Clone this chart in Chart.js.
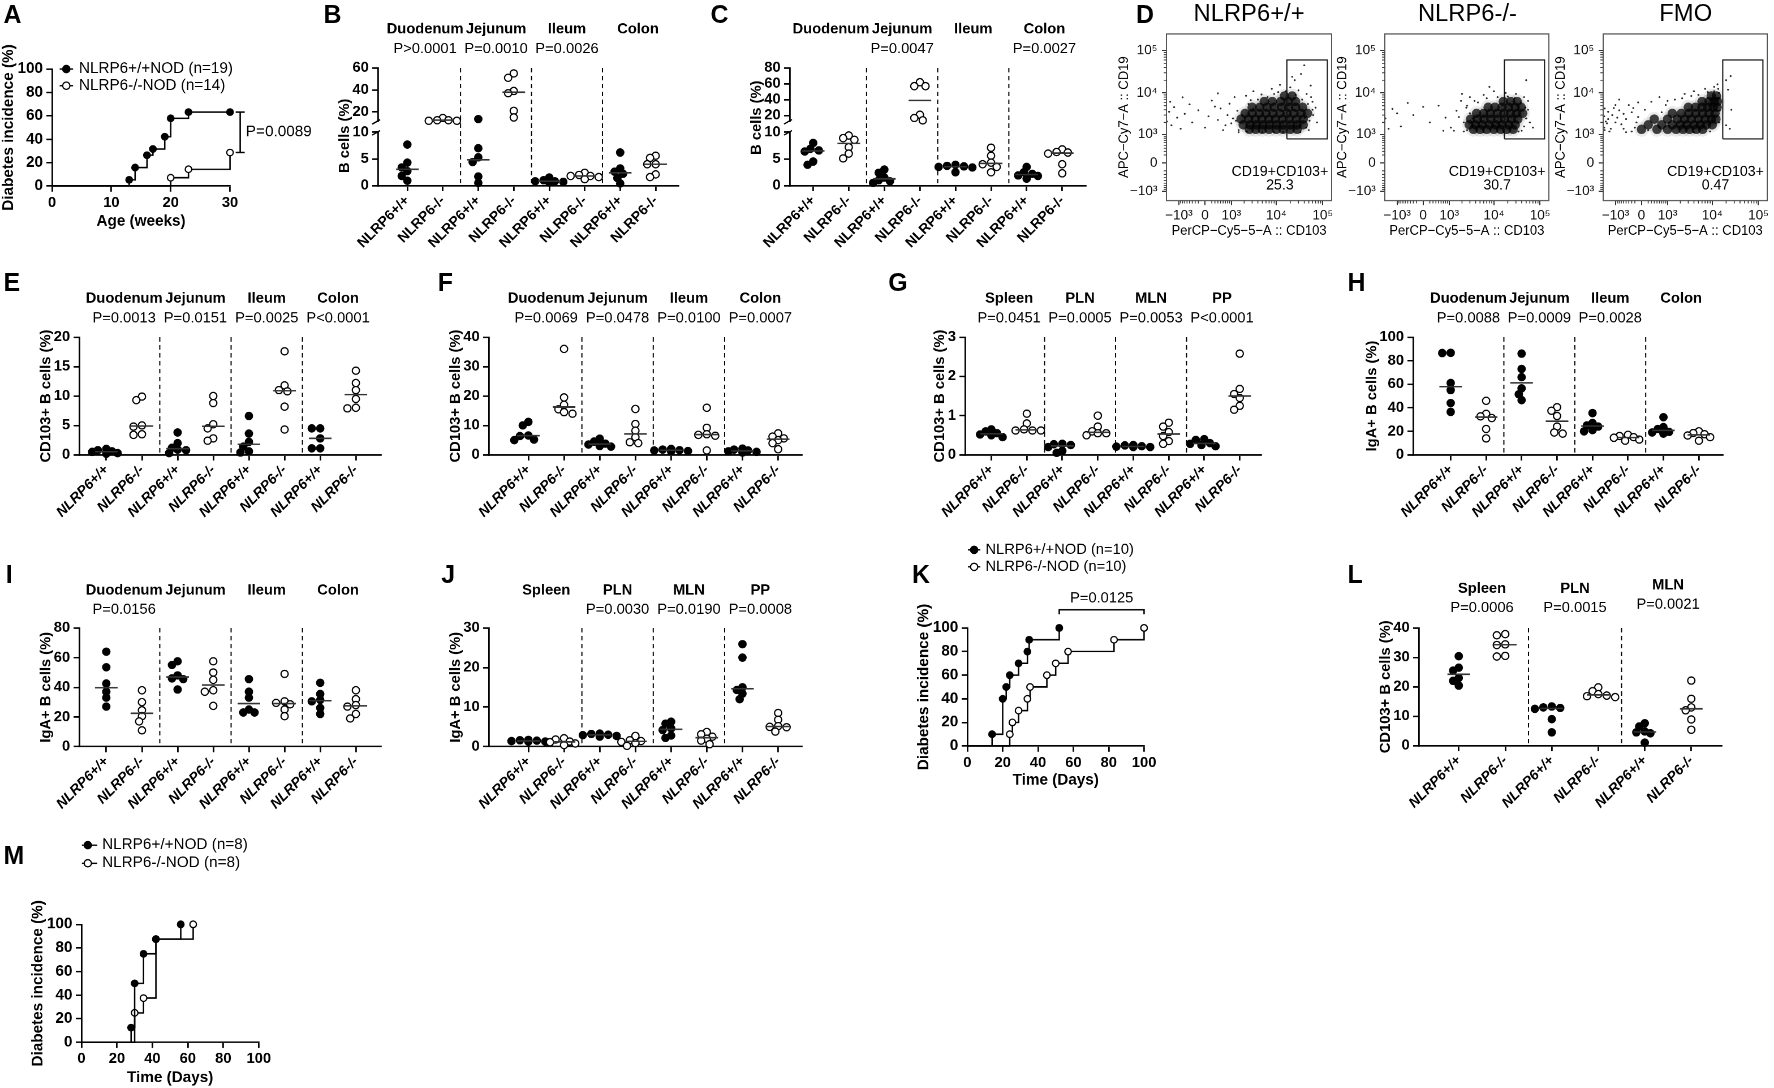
<!DOCTYPE html>
<html>
<head>
<meta charset="utf-8">
<title>NLRP6 NOD figure</title>
<script src="https://cdn.jsdelivr.net/npm/chart.js@4.4.1/dist/chart.umd.min.js"></script>
<style>
  html, body { margin: 0; padding: 0; background: #fff; overflow: hidden; }
  #fig { position: absolute; left: 0; top: 0; width: 1568px; height: 962px;
         transform: scale(1.131378); transform-origin: 0 0;
         font-family: "Liberation Sans", Arial, sans-serif; color: #000; }
  #fig canvas { position: absolute; }
  .lt { position: absolute; font-weight: bold; font-size: 22px; line-height: 22px; }
  .ft { position: absolute; font-size: 21px; line-height: 21px; width: 160px; margin-left: -80px; text-align: center; }
</style>
</head>
<body>
<div id="fig">
  <div class="lt" style="left:3px;top:2px">A</div>
  <div class="lt" style="left:286px;top:2px">B</div>
  <div class="lt" style="left:628px;top:2px">C</div>
  <div class="lt" style="left:1004px;top:2px">D</div>
  <div class="lt" style="left:3px;top:239px">E</div>
  <div class="lt" style="left:387px;top:239px">F</div>
  <div class="lt" style="left:785px;top:239px">G</div>
  <div class="lt" style="left:1191px;top:239px">H</div>
  <div class="lt" style="left:5px;top:497px">I</div>
  <div class="lt" style="left:390px;top:497px">J</div>
  <div class="lt" style="left:806px;top:497px">K</div>
  <div class="lt" style="left:1191px;top:497px">L</div>
  <div class="lt" style="left:3px;top:746px">M</div>
  <div class="ft" style="left:1104px;top:1px">NLRP6+/+</div>
  <div class="ft" style="left:1297px;top:1px">NLRP6-/-</div>
  <div class="ft" style="left:1490px;top:1px">FMO</div>
</div>
<script>
// ---------- data ----------
// A: diabetes incidence (%) by age (weeks)
const aWtWeeks = [0, 13, 14, 16, 17, 19, 20, 23, 30];
const aWtPct   = [0, 5.3, 15.8, 26.3, 31.6, 42.1, 57.9, 63.2, 63.2];
const aKoWeeks = [0, 20, 23, 30];
const aKoPct   = [0, 7.1, 14.3, 28.6];
const aLegend  = ['NLRP6+/+NOD (n=19)', 'NLRP6-/-NOD (n=14)'];

// K: incidence (%) by time (days)
const kWtDays = [0, 14, 20, 22, 24, 29, 34, 35, 52];
const kWtPct  = [0, 10, 40, 50, 60, 70, 80, 90, 100];
const kKoDays = [0, 24, 25.5, 29, 34, 35.5, 45, 50, 57, 83, 100];
const kKoPct  = [0, 10, 20, 30, 40, 50, 60, 70, 80, 90, 100];
const kLegend = ['NLRP6+/+NOD (n=10)', 'NLRP6-/-NOD (n=10)'];

// M: incidence (%) by time (days)
const mWtDays = [0, 28, 30, 35, 42, 56];
const mWtPct  = [0, 12.5, 50, 75, 87.5, 100];
const mKoDays = [0, 30, 35, 42, 63];
const mKoPct  = [0, 25, 37.5, 87.5, 100];
const mLegend = ['NLRP6+/+NOD (n=8)', 'NLRP6-/-NOD (n=8)'];

const genotypes = ['NLRP6+/+', 'NLRP6-/-'];
const cats8 = [...genotypes, ...genotypes, ...genotypes, ...genotypes];
const cats6 = cats8.slice(0, 6);
const gutSites = ['Duodenum', 'Jejunum', 'Ileum', 'Colon'];
const lymphSites = ['Spleen', 'PLN', 'MLN', 'PP'];

// B: B cells (%)
const bP = ['P>0.0001', 'P=0.0010', 'P=0.0026', ''];
const bVals = [
  [7.7, 4.3, 3.4, 2.7, 1.8, 0.9], [14.5, 12.5, 12, 12, 12.5],
  [13.5, 7.0, 5.3, 4.4, 1.7, 0.5], [55, 51, 39, 37, 21, 15],
  [1.5, 1.0, 0.8, 0.7, 0.6, 0.8], [2.4, 2.0, 1.8, 1.8, 1.6, 1.2],
  [6.2, 3.2, 2.6, 2.2, 1.4, 0.4], [5.6, 5.2, 4.0, 4.0, 2.1, 1.6]
];
// C: B cells (%)
const cP = ['', 'P=0.0047', '', 'P=0.0027'];
const cVals = [
  [8.0, 6.9, 6.6, 6.4, 4.5, 3.9], [9.4, 8.9, 8.6, 7.2, 6.0, 5.1],
  [3.0, 2.4, 1.5, 1.0, 0.8, 0.5], [62, 57, 57, 21, 17, 14],
  [3.9, 3.7, 3.6, 3.5, 3.4, 2.5], [7.1, 5.6, 4.3, 4.0, 3.5, 2.5],
  [3.5, 2.5, 2.2, 1.9, 1.8, 1.3], [6.8, 6.3, 6.2, 6.0, 4.0, 2.3]
];
// E: CD103+ B cells (%)
const eP = ['P=0.0013', 'P=0.0151', 'P=0.0025', 'P<0.0001'];
const eVals = [
  [1.0, 0.8, 0.6, 0.5, 0.3, 0.2], [9.9, 9.3, 5.0, 4.8, 3.5, 3.4],
  [3.8, 2.0, 1.2, 0.9, 0.8, 0.3], [10.0, 8.8, 5.2, 4.5, 2.8, 2.4],
  [6.6, 3.6, 2.2, 1.4, 0.6, 0.4], [17.6, 11.8, 11.0, 10.8, 8.2, 4.3],
  [4.5, 4.5, 2.8, 1.1, 1.1], [14.3, 12.2, 11.0, 9.5, 8.0, 7.9]
];
// F: CD103+ B cells (%)
const fP = ['P=0.0069', 'P=0.0478', 'P=0.0100', 'P=0.0007'];
const fVals = [
  [11.2, 10.0, 6.6, 6.4, 5.2, 5.0], [36.0, 19.5, 17.0, 15.5, 14.5, 14.0],
  [5.5, 4.5, 3.8, 3.5, 3.0, 2.8], [15.6, 10.5, 8.2, 6.0, 4.3, 4.0],
  [2.0, 1.8, 1.6, 1.5, 1.3, 1.2], [16.0, 9.2, 7.0, 6.8, 6.5, 1.5],
  [2.1, 1.8, 1.5, 1.2, 1.0, 0.8], [7.3, 6.2, 5.6, 5.0, 4.0, 1.9]
];
// G: CD103+ B cells (%)
const gP = ['P=0.0451', 'P=0.0005', 'P=0.0053', 'P<0.0001'];
const gVals = [
  [0.65, 0.6, 0.55, 0.52, 0.5, 0.45], [1.05, 0.8, 0.65, 0.62, 0.62, 0.62],
  [0.28, 0.27, 0.25, 0.2, 0.1, 0.05], [1.0, 0.72, 0.6, 0.55, 0.55, 0.5],
  [0.25, 0.24, 0.22, 0.21, 0.2, 0.2], [0.82, 0.72, 0.58, 0.48, 0.35, 0.28],
  [0.4, 0.38, 0.3, 0.28, 0.25, 0.22], [2.58, 1.68, 1.55, 1.45, 1.25, 1.15]
];
// H: IgA+ B cells (%)
const hP = ['P=0.0088', 'P=0.0009', 'P=0.0028', ''];
const hVals = [
  [86.7, 86.5, 61, 55, 44, 36.5], [45.9, 34.8, 32.7, 31.3, 22, 14],
  [86, 73, 66, 56.5, 51.5, 46.5], [40.5, 37.5, 33, 24, 19, 18],
  [35.5, 27, 25, 24, 21, 20], [17, 16, 15, 14.5, 13, 12],
  [32, 23.5, 22, 19.5, 19, 18], [20, 18.5, 17.5, 16.5, 15, 12]
];
// I: IgA+ B cells (%)
const iP = ['P=0.0156', '', '', ''];
const iVals = [
  [64, 53.5, 42.5, 37, 33, 27], [38, 30, 24.5, 20.5, 17, 11],
  [57.5, 55, 48, 46, 45.5, 38.5], [57.5, 50, 45, 38, 37, 27.5],
  [45.5, 37, 33, 25, 23, 23], [49, 30.5, 29.5, 28.5, 25, 20.5],
  [43, 35.5, 31.5, 30.5, 26, 22], [38, 32, 28, 27, 22, 19]
];
// J: IgA+ B cells (%)
const jP = ['', 'P=0.0030', 'P=0.0190', 'P=0.0008'];
const jVals = [
  [1.7, 1.6, 1.5, 1.4, 1.3, 1.3], [2.1, 1.8, 1.3, 1.1, 0.8, 0.4],
  [3.3, 3.2, 3.0, 2.9, 2.7, 2.5], [2.7, 1.6, 1.4, 1.2, 0.9, 0.2],
  [6.3, 5.8, 4.6, 4.2, 2.8, 2.2], [3.7, 3.1, 2.5, 2.0, 1.5, 0.6],
  [25.9, 22.5, 15, 14.3, 13.4, 12], [8.5, 6.8, 5.2, 5.0, 4.9, 3.8]
];
// L: CD103+ B cells (%)
const lP = ['P=0.0006', 'P=0.0015', 'P=0.0021'];
const lVals = [
  [30.4, 26.5, 25.5, 23, 22, 20.4], [37.9, 37.5, 34.4, 34.2, 30.5, 30.3],
  [13.3, 13.0, 12.8, 12.5, 9.0, 4.5], [19.8, 18.5, 17.5, 17.0, 16.8, 16.5],
  [7.6, 6.5, 4.8, 4.5, 4.2, 1.0], [22.1, 15.9, 13.0, 12.0, 8.9, 5.4]
];

// D: flow plots, events as [CD103, CD19]
const flowTicks = [-1000, 0, 1000, 10000, 100000];
const flowTickLabels = ['−10³', '0', '10³', '10⁴', '10⁵'];
const gateX = [16900, 125000];
const gateY = [765, 60000];
const gatePct = ['25.3', '30.7', '0.47'];
const wtCore = [
  [2600,1350],[3600,1350],[5000,1350],[7000,1350],[10000,1350],[14000,1350],[20000,1350],[28000,1350],
  [1900,1750],[2700,1750],[3700,1750],[5100,1750],[7100,1750],[10000,1750],[14000,1750],[20000,1750],[28000,1750],[38000,1750],
  [1700,2400],[2500,2400],[3500,2400],[4900,2400],[6900,2400],[9600,2400],[13500,2400],[19000,2400],[27000,2400],[38000,2400],
  [2100,3300],[3000,3300],[4300,3300],[6000,3300],[8500,3300],[12000,3300],[17000,3300],[24000,3300],[34000,3300],[47000,3300],
  [3000,4600],[4400,4600],[6300,4600],[9000,4600],[13000,4600],[18500,4600],[26000,4600],[37000,4600],
  [5500,6300],[8200,6300],[12500,6300],[18000,6300],[26000,6300],[15000,8500],[22000,8500]
];
const wtSparse = [
  [-1900,2100],[-1700,3600],[-1500,1700],[-1300,4600],[-1100,2600],[-900,1400],[-700,3200],[-500,5400],
  [-400,2000],[-200,3900],[0,1500],[100,2800],[200,6600],[400,2300],[500,4300],[600,1300],[800,3000],
  [900,5600],[1000,1900],[1200,8000],[400,9800],[-1600,6200],[-800,7900],[300,4800],[700,1700],[1100,2500],
  [1400,3800],[1500,1300],[2200,8600],[3200,11000],[4800,9200],[8000,12500],[12000,15500],[20000,13500],
  [30000,11500],[45000,9500],[60000,6200],[62000,3000],[75000,2000],[50000,1300],[34000,28000],[40000,45000],
  [25000,20000],[9000,1150],[70000,4500],[55000,15000],
  [1500,1150],[2300,1200],[3200,4200],[1800,3000],[2500,5500],[4000,7000],[6500,8000],[11000,10500],
  [16000,11000],[26000,9000],[36000,7000],[48000,5500],[52000,2200],[44000,1500],[33000,1150],[14000,1150],
  [5000,1150],[60000,4000],[1300,2200],[2800,6800],[9000,9500],[41000,2600],[56000,8000],[22000,24000]
];
const koCore = [
  [3600,1350],[5000,1350],[7000,1350],[10000,1350],[14000,1350],[19000,1350],[26000,1350],
  [2900,1750],[4000,1750],[5600,1750],[8000,1750],[11000,1750],[15000,1750],[21000,1750],[29000,1750],
  [3100,2400],[4400,2400],[6100,2400],[8600,2400],[12000,2400],[17000,2400],[24000,2400],[33000,2400],
  [4200,3300],[6000,3300],[8400,3300],[11800,3300],[16500,3300],[23000,3300],[31000,3300],[42000,3300],
  [7500,4600],[10500,4600],[15000,4600],[21000,4600],[29000,4600],[39000,4600],[16000,6300],[23000,6300],[32000,6300]
];
const koSparse = [
  [-1900,2500],[-1300,4200],[-800,1600],[-300,3000],[200,2000],[500,5000],[800,2600],[1100,1500],[1500,3800],
  [1900,6500],[2200,2000],[1300,1250],[-1600,1400],[2500,4500],[3000,8000],[6000,9000],[10000,11000],
  [18000,10000],[30000,9500],[45000,8000],[55000,4000],[60000,2000],[40000,1250],[3800,6500],[50000,20000],
  [70000,1500],[2000,9500],[-500,5800],[700,1250],[8000,14000],[-1000,3300],[0,4700],[2600,1300],[1700,2700],
  [2200,1200],[3000,3300],[2600,5000],[4500,6000],[7000,7500],[12000,8000],[20000,8200],[28000,7500],
  [38000,6000],[48000,4500],[50000,2500],[45000,1600],[34000,1200],[16000,1150],[6000,1150],[3500,2500],[55000,6500]
];
const fmoCore = [
  [0,1350],[500,1350],[1000,1350],[1600,1350],[2300,1350],[3200,1350],[4500,1350],[6200,1350],
  [200,1750],[700,1750],[1300,1750],[2000,1750],[2800,1750],[4000,1750],[5500,1750],[7500,1750],[10000,1750],
  [400,2400],[1000,2400],[1700,2400],[2500,2400],[3500,2400],[5000,2400],[7000,2400],[9500,2400],[12000,2400],
  [1300,3300],[2100,3300],[3100,3300],[4400,3300],[6200,3300],[8500,3300],[11500,3300],
  [3000,4600],[4300,4600],[6000,4600],[8000,4600],[10500,4600],[12800,4600],
  [6000,6300],[8500,6300],[11000,6300],[13000,6300],[9500,8500],[12300,8500]
];
const fmoSparse = [
  [-1850,1500],[-1850,2800],[-1700,2100],[-1500,3600],[-1300,1400],[-1100,4400],[-900,2600],[-700,1800],
  [-600,3200],[-400,5200],[-200,1500],[-100,2700],[100,4000],[300,6200],[-1800,4300],[-800,7000],[600,8000],
  [1500,7000],[2500,9500],[4000,11000],[7000,12500],[11000,14000],[13000,16000],[14000,10000],[20000,20000],
  [25000,25000],[22000,12000],[26000,4000],[20000,1700],[24000,1400],[-1400,1200],[-300,1200],[900,5200],
  [-1600,1900],[-1200,3000],[-1000,2000],[-800,3900],[-500,2400],[-300,3500],[-150,2000],[-1800,1300],
  [-600,1400],[-1000,5200],[200,1300],[-250,4400],
  [-100,6000],[1000,6500],[2200,7500],[3500,8500],[5000,9000],[8000,10500],[11000,11000],[13500,12500],
  [14000,7500],[14500,3800],[14000,2000],[9000,1200],[4000,1150],[-500,1150],[-1500,2400],[700,3500]
];

// ---------- helpers ----------
const FONT = '"Liberation Sans", Arial, sans-serif';
const fnt = (w, s) => (w ? w + ' ' : '') + s + 'px ' + FONT;
Chart.defaults.font.family = FONT;
Chart.defaults.color = '#000';
Chart.defaults.animation = false;
Chart.defaults.events = [];
Chart.defaults.plugins.legend.display = false;
Chart.defaults.plugins.tooltip.enabled = false;

const fig = document.getElementById('fig');

function place(L, T, R, B, padL, padT, padR, padB) {
  const w = Math.ceil(R - L + padL + padR), h = Math.ceil(B - T + padT + padB);
  const cv = document.createElement('canvas');
  cv.width = w; cv.height = h;
  cv.style.left = (L - padL) + 'px';
  cv.style.top = (T - padT) + 'px';
  fig.appendChild(cv);
  return {cv, ox: L - padL, oy: T - padT, padL, padT,
          padR: w - padL - (R - L), padB: h - padT - (B - T)};
}

function txt(c, s, x, y, font, align, rot) {
  c.save();
  c.translate(x, y);
  if (rot) c.rotate(rot);
  c.font = font; c.fillStyle = '#000';
  c.textAlign = align || 'center'; c.textBaseline = 'middle';
  c.fillText(s, 0, 0);
  c.restore();
}

function median(a) {
  const s = [...a].sort((x, y) => x - y), n = s.length;
  return n % 2 ? s[(n - 1) / 2] : (s[n / 2 - 1] + s[n / 2]) / 2;
}

// simple beeswarm: returns horizontal pixel offsets
function swarm(vals, ypx) {
  const order = vals.map((v, i) => i).sort((a, b) => vals[b] - vals[a]);
  const placed = [], off = [];
  const cands = [0, -1, 1, -2, 2, -3, 3, -4, 4, -5, 5, -6, 6].map(k => k * 2.5);
  order.forEach(i => {
    const y = ypx(vals[i]);
    off[i] = 0;
    for (const x of cands) {
      if (placed.every(p => Math.hypot(p.x - x, p.y - y) >= 5.2)) { off[i] = x; break; }
    }
    placed.push({x: off[i], y});
  });
  return off;
}

function baseOpts(pl) {
  return {responsive: false, devicePixelRatio: 2,
          layout: {padding: {left: 0, top: pl.padT, right: pl.padR, bottom: 0}}};
}

function axisY(pl, min, max, ticks, extra) {
  return Object.assign({
    type: 'linear', position: 'left', min, max,
    afterBuildTicks: a => { a.ticks = ticks.map(v => ({value: v})); },
    afterFit: a => { a.width = pl.padL; },
    ticks: {color: '#000', padding: 3, autoSkip: false, font: {size: 13, weight: 'bold'}},
    grid: {drawOnChartArea: false, color: '#000', lineWidth: 1.4, tickLength: 5},
    border: {color: '#000', width: 1.4}
  }, extra || {});
}

function axisX(pl, min, max, ticks, tickOpts) {
  return {
    type: 'linear', position: 'bottom', min, max,
    afterBuildTicks: a => { a.ticks = ticks.map(v => ({value: v})); },
    afterFit: a => { a.height = pl.padB; a.paddingLeft = 0; a.paddingRight = 0; },
    ticks: Object.assign({color: '#000', padding: 2, autoSkip: false, minRotation: 0, maxRotation: 0,
                          font: {size: 13, weight: 'bold'}}, tickOpts || {}),
    grid: {drawOnChartArea: false, color: '#000', lineWidth: 1.4, tickLength: 5},
    border: {color: '#000', width: 1.4}
  };
}

// ---------- dot plot panels ----------
function dotPanel(p) {
  const segs = p.segs || [{id: 'y', min: 0, max: p.ymax, ticks: p.yticks, top: p.T, bottom: p.B}];
  const T = segs[0].top, B = segs[segs.length - 1].bottom;
  const pl = place(p.L, T, p.R, B, 80, 75, 10, 80);
  const segOf = v => segs.find(s => v >= s.min && v <= s.max) || segs[0];
  const ypx = v => { const s = segOf(v); return s.bottom - (v - s.min) / (s.max - s.min) * (s.bottom - s.top); };
  const xu = (p.R - p.L) / (p.xmax - p.xmin);
  const med = {}, full = {}, open = {};
  segs.forEach(s => { med[s.id] = []; full[s.id] = []; open[s.id] = []; });
  p.vals.forEach((vals, i) => {
    const offs = swarm(vals, ypx);
    vals.forEach((v, k) => {
      (i % 2 ? open : full)[segOf(v).id].push({x: i + 1 + offs[k] / xu, y: v});
    });
    const m = median(vals);
    med[segOf(m).id].push({x: i + 1, y: m});
  });
  const datasets = [];
  segs.forEach(s => {
    datasets.push({data: med[s.id], yAxisID: s.id, pointStyle: 'line', pointRadius: 10,
                   borderColor: '#333', borderWidth: 1.4, clip: false});
    datasets.push({data: open[s.id], yAxisID: s.id, pointRadius: 3.2, backgroundColor: '#fff',
                   borderColor: '#000', borderWidth: 1.1, clip: false});
    datasets.push({data: full[s.id], yAxisID: s.id, pointRadius: 3.2, backgroundColor: '#000',
                   borderColor: '#000', borderWidth: 1.1, clip: false});
  });
  const scales = {
    x: axisX(pl, p.xmin, p.xmax, p.cats.map((c, i) => i + 1), {
      minRotation: 45, maxRotation: 45, padding: 1,
      font: {size: 12.5, weight: 'bold', style: p.italic ? 'italic' : 'normal'},
      callback: v => p.cats[v - 1] || ''
    })
  };
  // stacked y segments are laid out from the last defined to the first, so insert bottom-up
  for (let j = segs.length - 1; j >= 0; j--) {
    const s = segs[j];
    scales[s.id] = axisY(pl, s.min, s.max, s.ticks,
      segs.length > 1 ? {stack: 'yy', stackWeight: s.bottom - s.top} : {});
    if (j > 0) {
      scales['gap' + j] = {type: 'linear', position: 'left', stack: 'yy', stackWeight: s.top - segs[j - 1].bottom,
        min: 0, max: 1, afterFit: a => { a.width = pl.padL; },
        ticks: {display: false}, grid: {display: false}, border: {display: false}};
    }
  }
  const deco = {
    id: 'deco',
    beforeDatasetsDraw(ch) {
      const c = ch.ctx, xa = ch.scales.x;
      c.save(); c.strokeStyle = '#000'; c.lineWidth = 1; c.setLineDash([4, 3]);
      for (let g = 1; g < p.sites.length; g++) {
        const x = xa.getPixelForValue(2 * g + 0.5);
        c.beginPath(); c.moveTo(x, pl.padT); c.lineTo(x, pl.padT + (B - T)); c.stroke();
      }
      c.restore();
    },
    afterDraw(ch) {
      const c = ch.ctx, xa = ch.scales.x;
      p.sites.forEach((s, g) => {
        const x = xa.getPixelForValue(2 * g + 1.5);
        const hy = Array.isArray(p.hY) ? p.hY[g] : p.hY;
        const py = Array.isArray(p.pY) ? p.pY[g] : p.pY;
        txt(c, s, x, hy - pl.oy, fnt('bold', 13));
        if (p.pv[g]) txt(c, p.pv[g], x, py - pl.oy, fnt('', 13));
      });
      txt(c, p.yTitle, pl.padL - (p.yOff || 29), (T + B) / 2 + (p.yShift || 0) - pl.oy,
          fnt('bold', 13), 'center', -Math.PI / 2);
      if (segs.length > 1) {
        c.save(); c.strokeStyle = '#000'; c.lineWidth = 1.2;
        for (let j = 1; j < segs.length; j++) {
          [segs[j - 1].bottom, segs[j].top].forEach(yy => {
            const y = yy - pl.oy;
            c.beginPath(); c.moveTo(pl.padL - 5, y + 2.5); c.lineTo(pl.padL + 2, y - 1.5); c.stroke();
          });
        }
        c.restore();
      }
    }
  };
  new Chart(pl.cv, {type: 'scatter', data: {datasets},
    options: Object.assign(baseOpts(pl), {scales}), plugins: [deco]});
}

// ---------- incidence (step) panels ----------
function kmPanel(p) {
  const pl = place(p.L, p.T, p.R, p.B, 80, 80, 75, 60);
  const mk = (xs, ys, fill) => ({
    data: xs.map((x, i) => ({x, y: ys[i]})), showLine: true, stepped: true,
    borderColor: '#000', borderWidth: 1.3,
    pointRadius: c => (c.dataIndex === 0 ? 0 : 2.9),
    pointBackgroundColor: fill, pointBorderColor: '#000', pointBorderWidth: 1.1, clip: false
  });
  const deco = {
    id: 'kmdeco',
    afterDraw(ch) {
      const c = ch.ctx, xa = ch.scales.x, ya = ch.scales.y;
      txt(c, p.xTitle, (xa.left + xa.right) / 2, p.xTy - pl.oy, fnt('bold', 13.5));
      txt(c, 'Diabetes incidence (%)', pl.padL - 38, (p.T + p.B) / 2 - pl.oy, fnt('bold', 13.5), 'center', -Math.PI / 2);
      const lg = p.legend;
      lg.labels.forEach((s, i) => {
        const y = lg.y[i] - pl.oy;
        c.save(); c.strokeStyle = '#000'; c.lineWidth = 1.2;
        c.beginPath(); c.moveTo(lg.x0 - pl.ox, y); c.lineTo(lg.x1 - pl.ox, y); c.stroke();
        c.beginPath(); c.arc(lg.dot - pl.ox, y, 3.2, 0, Math.PI * 2);
        c.fillStyle = i ? '#fff' : '#000'; c.fill(); c.lineWidth = 1.1; c.stroke();
        c.restore();
        txt(c, s, lg.tx - pl.ox, y, fnt('', lg.size), 'left');
      });
      c.save(); c.strokeStyle = '#000'; c.lineWidth = 1.3;
      if (p.vbar) {
        const x = xa.getPixelForValue(p.vbar.x) + 9;
        const y0 = ya.getPixelForValue(p.vbar.y0), y1 = ya.getPixelForValue(p.vbar.y1);
        c.beginPath();
        c.moveTo(x, y0); c.lineTo(x, y1);
        c.moveTo(x - 4, y0); c.lineTo(x + 4, y0);
        c.moveTo(x - 4, y1); c.lineTo(x + 4, y1);
        c.stroke();
        txt(c, p.vbar.text, x + 5, (y0 + y1) / 2, fnt('', 13.5), 'left');
      }
      if (p.hbar) {
        const y = ya.getPixelForValue(100) - 16;
        const x0 = xa.getPixelForValue(p.hbar.x0), x1 = xa.getPixelForValue(p.hbar.x1);
        c.beginPath();
        c.moveTo(x0, y + 4); c.lineTo(x0, y); c.lineTo(x1, y); c.lineTo(x1, y + 4);
        c.stroke();
        txt(c, p.hbar.text, (x0 + x1) / 2, y - 10, fnt('', 13));
      }
      c.restore();
    }
  };
  new Chart(pl.cv, {
    type: 'scatter',
    data: {datasets: [mk(p.wt[0], p.wt[1], '#000'), mk(p.ko[0], p.ko[1], '#fff')]},
    options: Object.assign(baseOpts(pl), {scales: {
      x: axisX(pl, 0, p.xmax, p.xticks),
      y: axisY(pl, 0, 100, [0, 20, 40, 60, 80, 100], {ticks: {color: '#000', padding: 3, autoSkip: false, font: {size: 13.5, weight: 'bold'}}})
    }}),
    plugins: [deco]
  });
}

// ---------- flow plots (arcsinh scaled axes) ----------
function makeAsinh(id, cof) {
  class AsinhScale extends Chart.Scale {
    determineDataLimits() { this.min = this.options.min; this.max = this.options.max; }
    buildTicks() { return []; }
    configure() {
      super.configure();
      this._t0 = Math.asinh(this.min / cof);
      this._t1 = Math.asinh(this.max / cof);
    }
    getPixelForValue(v) { return this.getPixelForDecimal((Math.asinh(v / cof) - this._t0) / (this._t1 - this._t0)); }
    getValueForPixel(px) { return cof * Math.sinh(this._t0 + this.getDecimalForPixel(px) * (this._t1 - this._t0)); }
    getLabelForValue(v) { return String(v); }
  }
  AsinhScale.id = id;
  AsinhScale.defaults = {};
  return AsinhScale;
}
Chart.register(makeAsinh('asinhX', 590), makeAsinh('asinhY', 450));

const flowMinor = [];
[100, 1000, 10000].forEach(d => { for (let k = 2; k <= 9; k++) { flowMinor.push(k * d); flowMinor.push(-k * d); } });

function flowPanel(p) {
  const T = 29.5, B = 176.8;
  const pl = place(p.L, T, p.R, B, 50, 30, 8, 45);
  const pts = a => a.map(([x, y]) => ({x, y}));
  const gate = [[gateX[0], gateY[0]], [gateX[1], gateY[0]], [gateX[1], gateY[1]], [gateX[0], gateY[1]], [gateX[0], gateY[0]]];
  const lab = v => flowTickLabels[flowTicks.indexOf(v)] || '';
  const ax = (type, min, max, horiz) => ({
    type, min, max, position: horiz ? 'bottom' : 'left',
    afterBuildTicks: a => { a.ticks = flowTicks.map(v => ({value: v})); },
    afterFit: a => { if (horiz) { a.height = pl.padB; a.paddingLeft = 0; a.paddingRight = 0; } else { a.width = pl.padL; } },
    ticks: {callback: lab, color: '#111', padding: horiz ? 2 : 4, autoSkip: false, minRotation: 0, maxRotation: 0, font: {size: 12}},
    grid: {drawOnChartArea: false, color: '#333', lineWidth: 1, tickLength: 4},
    border: {display: false}
  });
  const deco = {
    id: 'flowdeco',
    afterDraw(ch) {
      const c = ch.ctx, a = ch.chartArea, xa = ch.scales.x, ya = ch.scales.y;
      c.save();
      c.strokeStyle = '#555'; c.lineWidth = 1;
      c.strokeRect(a.left, a.top, a.right - a.left, a.bottom - a.top);
      c.strokeStyle = '#333'; c.lineWidth = 0.8;
      flowMinor.forEach(v => {
        if (v > xa.min && v < xa.max) {
          const x = xa.getPixelForValue(v);
          c.beginPath(); c.moveTo(x, a.bottom); c.lineTo(x, a.bottom + 2.5); c.stroke();
        }
        if (v > ya.min && v < ya.max) {
          const y = ya.getPixelForValue(v);
          c.beginPath(); c.moveTo(a.left, y); c.lineTo(a.left - 2.5, y); c.stroke();
        }
      });
      c.restore();
      const F = fnt('', 12.5);
      c.save(); c.font = F; const w = c.measureText('CD19+CD103+').width; c.restore();
      txt(c, 'CD19+CD103+', a.right - 3, 151.7 - pl.oy, F, 'right');
      txt(c, p.pct, a.right - 3 - w / 2, 163.5 - pl.oy, F);
      txt(c, 'APC−Cy7−A :: CD19', a.left - 37, 103 - pl.oy, fnt('', 11.5), 'center', -Math.PI / 2);
      txt(c, 'PerCP−Cy5−5−A :: CD103', (a.left + a.right) / 2, B + 27 - pl.oy, fnt('', 11.5));
    }
  };
  new Chart(pl.cv, {
    type: 'scatter',
    data: {datasets: [
      {data: pts(gate), showLine: true, pointRadius: 0, borderColor: '#111', borderWidth: 1, clip: false},
      {data: pts(p.sparse), pointRadius: 0.85, backgroundColor: 'rgba(0,0,0,0.85)', borderWidth: 0},
      {data: pts(p.core), pointRadius: 4.2, backgroundColor: 'rgba(0,0,0,0.74)', borderWidth: 0},
      {data: pts(p.core), pointRadius: 6.5, backgroundColor: 'rgba(0,0,0,0.08)', borderWidth: 0}
    ]},
    options: Object.assign(baseOpts(pl), {scales: {
      x: ax('asinhX', -1950, 155000, true),
      y: ax('asinhY', -1710, 246000, false)
    }}),
    plugins: [deco]
  });
}

// ---------- build the figure ----------
kmPanel({L: 45.7, R: 203, T: 61, B: 164.4, xmax: 30, xticks: [0, 10, 20, 30],
  wt: [aWtWeeks, aWtPct], ko: [aKoWeeks, aKoPct], xTitle: 'Age (weeks)', xTy: 196,
  legend: {labels: aLegend, y: [61, 75.7], x0: 52.4, x1: 64.3, dot: 58.3, tx: 69.4, size: 13.5},
  vbar: {x: 30, y0: 63.2, y1: 28.6, text: 'P=0.0089'}});

dotPanel({L: 334, R: 601, xmin: 0.17, xmax: 8.64, cats: cats8, vals: bVals, sites: gutSites, pv: bP,
  hY: 26.5, pY: 43.6, italic: false, yTitle: 'B cells (%)', yShift: 8,
  segs: [{id: 'yU', min: 11.5, max: 60, ticks: [20, 40, 60], top: 60.4, bottom: 107.6},
         {id: 'y', min: 0, max: 10, ticks: [0, 5, 10], top: 117.3, bottom: 164.4}]});

dotPanel({L: 698, R: 961, xmin: 0.34, xmax: 8.66, cats: cats8, vals: cVals, sites: gutSites, pv: cP,
  hY: 26.5, pY: 43.6, italic: false, yTitle: 'B cells (%)', yShift: -8,
  segs: [{id: 'yU', min: 12.9, max: 80, ticks: [20, 40, 60, 80], top: 60.4, bottom: 107.5},
         {id: 'y', min: 0, max: 10, ticks: [0, 5, 10], top: 117.3, bottom: 164.4}]});

flowPanel({L: 1031, R: 1177, core: wtCore, sparse: wtSparse, pct: gatePct[0]});
flowPanel({L: 1224, R: 1369, core: koCore, sparse: koSparse, pct: gatePct[1]});
flowPanel({L: 1417, R: 1562, core: fmoCore, sparse: fmoSparse, pct: gatePct[2]});

dotPanel({L: 70, R: 337.3, T: 298.2, B: 402.2, xmin: 0.24, xmax: 8.7, cats: cats8, vals: eVals,
  sites: gutSites, pv: eP, hY: 264.3, pY: 281.4, italic: true, ymax: 20, yticks: [0, 5, 10, 15, 20],
  yTitle: 'CD103+ B cells (%)'});
dotPanel({L: 431.5, R: 709.4, T: 298.2, B: 402.2, xmin: -0.11, xmax: 8.66, cats: cats8, vals: fVals,
  sites: gutSites, pv: fP, hY: 264.3, pY: 281.4, italic: true, ymax: 40, yticks: [0, 10, 20, 30, 40],
  yTitle: 'CD103+ B cells (%)'});
dotPanel({L: 853.4, R: 1116, T: 298.2, B: 402.2, xmin: 0.26, xmax: 8.6, cats: cats8, vals: gVals,
  sites: lymphSites, pv: gP, hY: 264.3, pY: 281.4, italic: true, ymax: 3, yticks: [0, 1, 2, 3],
  yTitle: 'CD103+ B cells (%)', yOff: 22});
dotPanel({L: 1249, R: 1524, T: 298.2, B: 402.2, xmin: -0.06, xmax: 8.67, cats: cats8, vals: hVals,
  sites: gutSites, pv: hP, hY: 264.3, pY: 281.4, italic: true, ymax: 100, yticks: [0, 20, 40, 60, 80, 100],
  yTitle: 'IgA+ B cells (%)', yOff: 36});

dotPanel({L: 70, R: 337.3, T: 554.8, B: 659.7, xmin: 0.24, xmax: 8.7, cats: cats8, vals: iVals,
  sites: gutSites, pv: iP, hY: 521.5, pY: 538.6, italic: true, ymax: 80, yticks: [0, 20, 40, 60, 80],
  yTitle: 'IgA+ B cells (%)'});
dotPanel({L: 431.5, R: 709.4, T: 554.8, B: 659.7, xmin: -0.11, xmax: 8.66, cats: cats8, vals: jVals,
  sites: lymphSites, pv: jP, hY: 521.5, pY: 538.6, italic: true, ymax: 30, yticks: [0, 10, 20, 30],
  yTitle: 'IgA+ B cells (%)'});

kmPanel({L: 855, R: 1011.2, T: 555, B: 659.4, xmax: 100, xticks: [0, 20, 40, 60, 80, 100],
  wt: [kWtDays, kWtPct], ko: [kKoDays, kKoPct], xTitle: 'Time (Days)', xTy: 690,
  legend: {labels: kLegend, y: [486, 501], x0: 855.5, x1: 866.5, dot: 861, tx: 871, size: 13},
  hbar: {x0: 52, x1: 100, text: 'P=0.0125'}});

dotPanel({L: 1254, R: 1522.8, T: 555.4, B: 659.4, xmin: 0.14, xmax: 6.65, cats: cats6, vals: lVals,
  sites: ['Spleen', 'PLN', 'MLN'], pv: lP, hY: [521, 521, 518], pY: [537.7, 537.7, 534.8], italic: true,
  ymax: 40, yticks: [0, 10, 20, 30, 40], yTitle: 'CD103+ B cells (%)'});

kmPanel({L: 71.6, R: 228.3, T: 817, B: 921.3, xmax: 100, xticks: [0, 20, 40, 60, 80, 100],
  wt: [mWtDays, mWtPct], ko: [mKoDays, mKoPct], xTitle: 'Time (Days)', xTy: 953,
  legend: {labels: mLegend, y: [747, 763], x0: 72, x1: 85.5, dot: 77.2, tx: 89.9, size: 13.5}});
</script>
</body>
</html>
